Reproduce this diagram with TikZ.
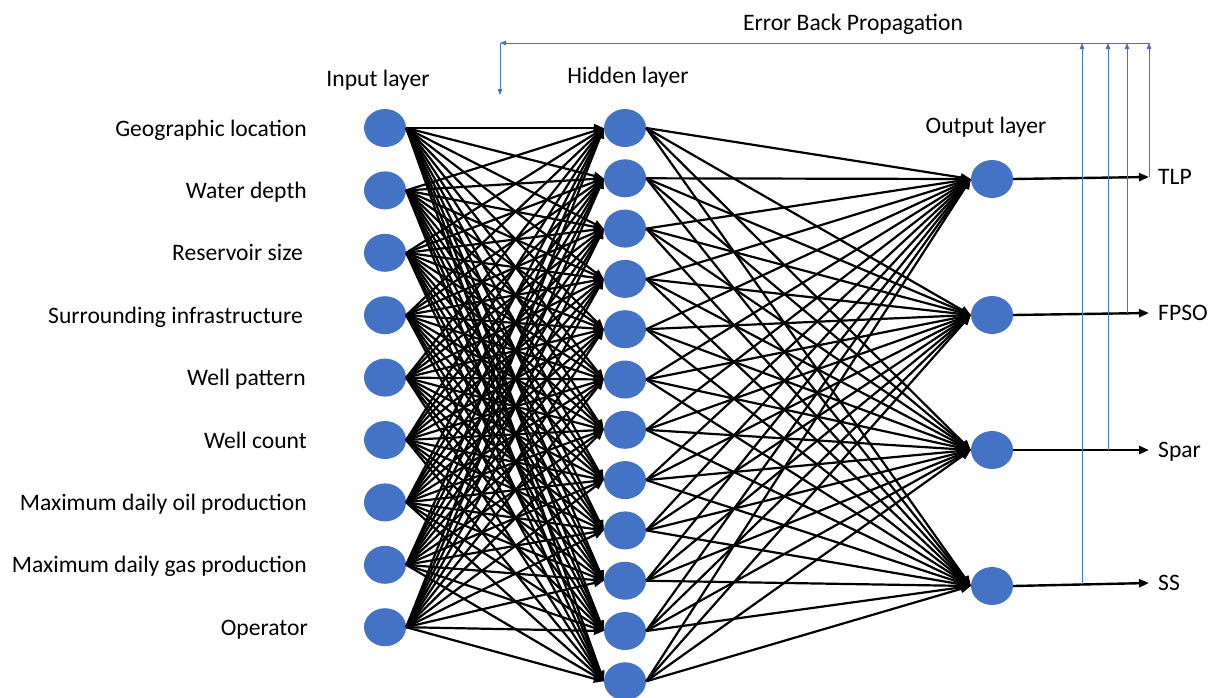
\documentclass[tikz,border=0pt]{standalone}
\usepackage{fontspec}
\setmainfont{Carlito}
\usetikzlibrary{arrows.meta,shapes.geometric}
\definecolor{nodeblue}{HTML}{4472C4}
\begin{document}
\begin{tikzpicture}[x=1pt,y=-1pt,
  neuron/.style={ellipse,fill=nodeblue,minimum width=42pt,minimum height=38pt,inner sep=0pt},
  lbl/.style={font=\fontsize{23.6}{28}\selectfont,inner sep=0pt},
  wire/.style={line width=2.2pt,-{Triangle[length=10pt,width=8pt]}},
  outwire/.style={line width=2.4pt,-{Triangle[length=10pt,width=8pt]}},
  bp/.style={draw=nodeblue,line width=0.9pt,-{Triangle[length=6pt,width=4.5pt]}}]
\useasboundingbox (0,0) rectangle (1209,697);
% neurons
\foreach \i in {1,...,9}
  \node[neuron] (i\i) at (385,{128+(\i-1)*62.4}) {};
\foreach \j in {1,...,12}
  \node[neuron] (h\j) at (625,{128+(\j-1)*50.3}) {};
\foreach \k/\y in {1/179,2/315,3/450,4/586}
  \node[neuron] (o\k) at (992,\y) {};
% connections
\foreach \i in {1,...,9}
  \foreach \j in {1,...,12}
    \draw[wire] (i\i.east) -- (h\j.west);
\foreach \j in {1,...,12}
  \foreach \k in {1,...,4}
    \draw[wire] (h\j.east) -- (o\k.west);
% input labels
\foreach \i/\t/\x in {1/Geographic location/307,2/Water depth/307,3/Reservoir size/303,
  4/Surrounding infrastructure/303,5/Well pattern/306,6/Well count/307,
  7/Maximum daily oil production/307,8/Maximum daily gas production/307,9/Operator/308}
  \node[lbl,anchor=base east] (l\i) at (\x,{136+(\i-1)*62.4}) {\t};
% layer titles
\node[lbl] (tin) at (378,80) {Input layer};
\node[lbl] (thid) at (628,77) {Hidden layer};
\node[lbl] (tout) at (986,127) {Output layer};
\node[lbl] (terr) at (853,24) {Error Back Propagation};
% outputs
\foreach \k/\y/\t in {1/177/TLP,2/313/FPSO,3/450/Spar,4/583/SS}{
  \coordinate (e\k) at (1149,\y);
  \node[lbl,anchor=base west] (r\k) at (1158,{\y+7.5}) {\t};
  \draw[outwire] (o\k.east) -- (e\k);
}
% back propagation
\foreach \k/\x/\y in {1/1149/177,2/1127/313,3/1108/450,4/1082/584}{
  \coordinate (b\k) at (\x,\y);
  \coordinate (u\k) at (\x,43);
  \draw[bp] (b\k) -- (u\k);
}
\coordinate (tr) at (1150,43);
\coordinate (tl) at (500,43);
\coordinate (td) at (500,95);
\draw[bp] (tr) -- (tl);
\draw[bp] (tl) -- (td);
\end{tikzpicture}
\end{document}
